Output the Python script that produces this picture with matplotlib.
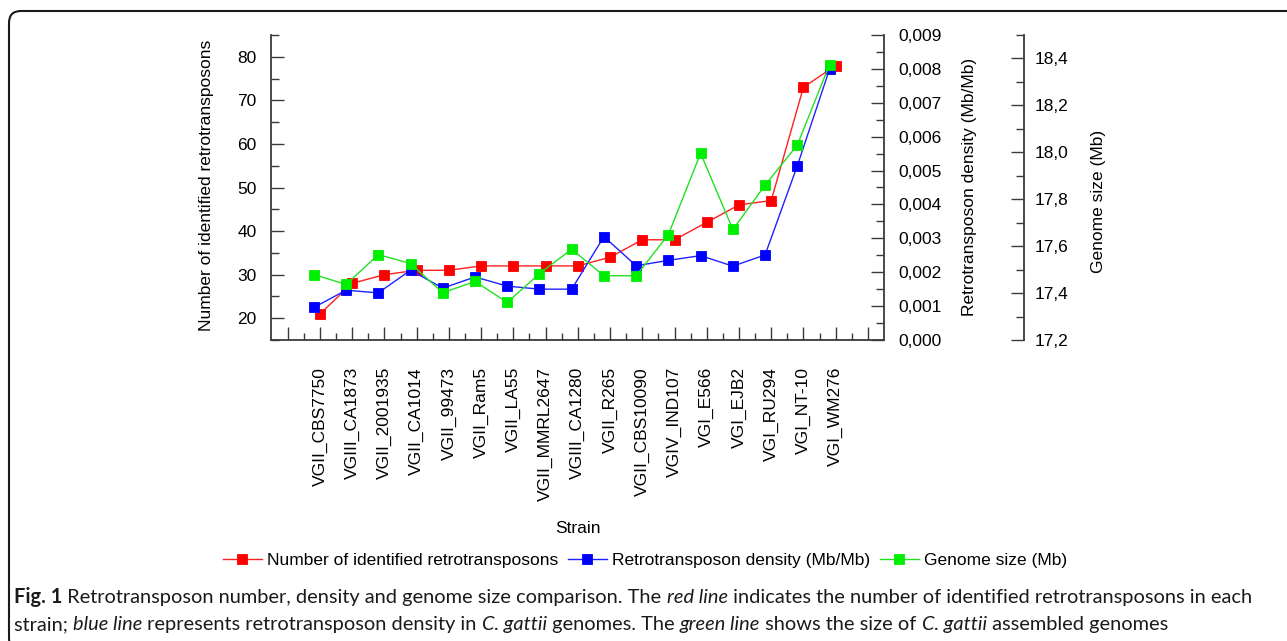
import matplotlib
matplotlib.use("Agg")
import matplotlib.pyplot as plt
import numpy as np
from matplotlib.patches import FancyBboxPatch
from matplotlib.ticker import FixedLocator, FuncFormatter, MultipleLocator

strains = [
    "VGII_CBS7750", "VGIII_CA1873", "VGII_2001935", "VGII_CA1014", "VGII_99473",
    "VGII_Ram5", "VGII_LA55", "VGII_MMRL2647", "VGIII_CA1280", "VGII_R265",
    "VGII_CBS10090", "VGIV_IND107", "VGI_E566", "VGI_EJB2", "VGI_RU294",
    "VGI_NT-10", "VGI_WM276",
]
retro_count = [21, 28, 30, 31, 31, 32, 32, 32, 32, 34, 38, 38, 42, 46, 47, 73, 78]
retro_density = [0.00096, 0.00147, 0.00139, 0.00206, 0.00153, 0.00186, 0.00159,
                 0.00150, 0.00150, 0.00305, 0.00219, 0.00235, 0.00249, 0.00218,
                 0.00251, 0.00514, 0.00799]
genome_size = [17.479, 17.437, 17.564, 17.526, 17.401, 17.450, 17.360, 17.483,
               17.587, 17.474, 17.474, 17.649, 17.996, 17.671, 17.860, 18.031, 18.374]

W, H = 1287, 641
FONT = "Liberation Sans"
FS = 12.5
plt.rcParams["font.family"] = [FONT, "DejaVu Sans"]

fig = plt.figure(figsize=(W / 100, H / 100), dpi=100)
ax = fig.add_axes([271 / W, 1 - 340 / H, 613 / W, 305 / H])
ax2 = ax.twinx()
ax3 = ax.twinx()

x = np.arange(1, len(strains) + 1)
shift = 0.19
spine_c = "#3a3a3a"
ms = 6.7

ax.plot(x, retro_count, color="#ff2020", lw=1, marker="s", ms=ms,
        mfc="#ff0000", mec="#ff0000", mew=0.6, label="Number of identified retrotransposons", zorder=3)
ax2.plot(x - shift, retro_density, color="#2020ff", lw=1, marker="s", ms=ms,
         mfc="#0000ff", mec="#0000ff", mew=0.6, label="Retrotransposon density (Mb/Mb)", zorder=3)
ax3.plot(x - shift, genome_size, color="#22e022", lw=1, marker="s", ms=ms,
         mfc="#00ee00", mec="#00ee00", mew=0.6, label="Genome size (Mb)", zorder=3)

ax.set_xlim(-0.52, 18.5)
ax.set_ylim(15, 85)
ax2.set_ylim(0, 0.009)
ax3.set_ylim(17.2, 18.5)

# x axis
ax.xaxis.set_major_locator(FixedLocator(range(0, 19)))
ax.xaxis.set_minor_locator(FixedLocator(np.arange(0.5, 18.5, 1)))
ax.set_xticklabels([""] + strains + [""], rotation=90, fontsize=FS)
ax.tick_params(axis="x", which="major", direction="in", length=9.5, width=1, color=spine_c, pad=19.5)
ax.tick_params(axis="x", which="minor", direction="in", length=5, width=1, color=spine_c)
ax.set_xlabel("Strain", fontsize=FS)
ax.xaxis.set_label_coords(0.5, -0.595)

# left axis
ax.yaxis.set_major_locator(MultipleLocator(10))
ax.yaxis.set_minor_locator(MultipleLocator(5))
ax.set_yticks([20, 30, 40, 50, 60, 70, 80])
ax.tick_params(axis="y", which="major", direction="in", length=9.5, width=1, color=spine_c, pad=10.5, labelsize=FS)
ax.tick_params(axis="y", which="minor", direction="in", length=5.5, width=1, color=spine_c)
ax.set_ylabel("Number of identified retrotransposons", fontsize=FS)
ax.yaxis.set_label_coords(-0.093, 0.508)

# density axis
ax2.yaxis.set_major_locator(MultipleLocator(0.001))
ax2.yaxis.set_minor_locator(MultipleLocator(0.0005))
ax2.yaxis.set_major_formatter(FuncFormatter(lambda v, p: f"{v:.3f}".replace(".", ",")))
ax2.tick_params(axis="y", which="major", direction="in", length=9.5, width=1, color=spine_c, pad=10.5, labelsize=FS)
ax2.tick_params(axis="y", which="minor", direction="in", length=5.5, width=1, color=spine_c)
ax2.set_ylabel("Retrotransposon density (Mb/Mb)", fontsize=FS)
ax2.yaxis.set_label_coords(1.1272, 0.503)

# genome axis
ax3.spines["right"].set_position(("axes", 1.2284))
ax3.yaxis.set_major_locator(MultipleLocator(0.2))
ax3.yaxis.set_minor_locator(MultipleLocator(0.1))
ax3.set_yticks(np.round(np.arange(17.2, 18.41, 0.2), 1))
ax3.yaxis.set_major_formatter(FuncFormatter(lambda v, p: f"{v:.1f}".replace(".", ",")))
ax3.tick_params(axis="y", which="major", direction="in", length=9.5, width=1, color=spine_c, pad=7.5, labelsize=FS)
ax3.tick_params(axis="y", which="minor", direction="in", length=5.5, width=1, color=spine_c)
ax3.set_ylabel("Genome size (Mb)", fontsize=FS)
ax3.yaxis.set_label_coords(1.3377, 0.455)

for a in (ax, ax2, ax3):
    a.patch.set_visible(False)
    a.spines["top"].set_visible(False)
    for s in a.spines.values():
        s.set_color(spine_c)
        s.set_linewidth(1.3)
ax.spines["right"].set_visible(False)
for a in (ax2, ax3):
    a.spines["left"].set_visible(False)
    a.spines["bottom"].set_visible(False)
ax3.spines["right"].set_bounds(17.2, 18.5)

handles = [ax.get_lines()[0], ax2.get_lines()[0], ax3.get_lines()[0]]
fig.legend(handles, [h.get_label() for h in handles], loc="center",
           bbox_to_anchor=(645 / W, 1 - 560 / H), ncol=3, frameon=False,
           fontsize=FS, handlelength=2.25, handletextpad=0.3, columnspacing=0.55)

# border
fig.patches.append(FancyBboxPatch((9, -9), 1300, 630 + 9, boxstyle="round,pad=0,rounding_size=12",
                                  transform=None, fill=False, lw=1.5, ec="#1a1a1a"))

# caption, built from runs of differently styled text
cap_font = "Lato"
cap_fs = 14.4
lines = [
    [("Fig. 1", "normal", "bold"),
     (" Retrotransposon number, density and genome size comparison. The ", "normal", "normal"),
     ("red line", "italic", "normal"),
     (" indicates the number of identified retrotransposons in each", "normal", "normal")],
    [("strain; ", "normal", "normal"), ("blue line", "italic", "normal"),
     (" represents retrotransposon density in ", "normal", "normal"),
     ("C. gattii", "italic", "normal"), (" genomes. The ", "normal", "normal"),
     ("green line", "italic", "normal"), (" shows the size of ", "normal", "normal"),
     ("C. gattii", "italic", "normal"), (" assembled genomes", "normal", "normal")],
]
renderer = fig.canvas.get_renderer()


def run_width(s, style, weight):
    t1 = fig.text(0, 0, s + "|", family=cap_font, size=cap_fs, style=style, weight=weight)
    t2 = fig.text(0, 0, "|", family=cap_font, size=cap_fs, style=style, weight=weight)
    w = t1.get_window_extent(renderer).width - t2.get_window_extent(renderer).width
    t1.remove()
    t2.remove()
    return w


for baseline, runs in zip((603, 630), lines):
    xp = 14
    for s, style, weight in runs:
        fig.text(xp / W, 1 - baseline / H, s, family=cap_font, size=cap_fs, style=style,
                 weight=weight, va="baseline", ha="left", color="#1a1a1a")
        xp += run_width(s, style, weight)

fig.savefig("out.png", dpi=100)
